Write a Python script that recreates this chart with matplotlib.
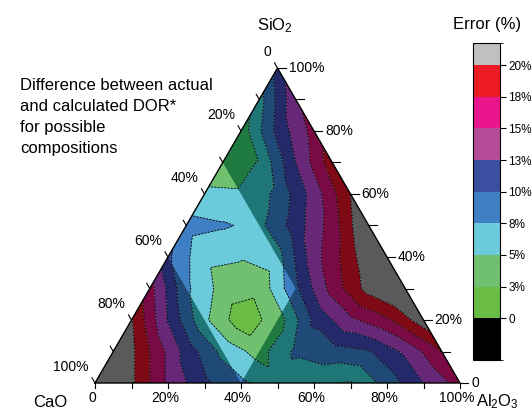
import numpy as np
import matplotlib.pyplot as plt
import matplotlib.tri as mtri
from matplotlib.colors import ListedColormap, BoundaryNorm
from matplotlib.cm import ScalarMappable
from matplotlib.patches import Polygon

plt.rcParams['font.family'] = ['Liberation Sans', 'DejaVu Sans']
plt.rcParams['mathtext.default'] = 'regular'

# error (%) read on a 10 % ternary grid
# row j = SiO2 (0..100 %), entry i = Al2O3 (0..100-SiO2 %), CaO is the rest
error_rows = [
    [25.0, 20.5, 14.5, 10.5, 8.0, 6.0, 5.5, 4.8, 8.5, 12.5, 16.0],
    [23.5, 17.5, 11.5, 6.8, 4.0, 8.0, 9.0, 9.8, 13.0, 17.5],
    [20.2, 12.3, 5.5, 1.0, 3.6, 10.5, 14.5, 17.0, 21.5],
    [16.0, 8.0, 4.0, 3.15, 9.5, 16.0, 21.0, 24.0],
    [10.5, 5.5, 5.2, 6.5, 14.0, 19.0, 25.0],
    [8.5, 7.8, 6.8, 11.2, 16.2, 23.0],
    [5.3, 5.2, 8.1, 13.6, 20.0],
    [4.0, 5.1, 12.5, 19.0],
    [3.5, 10.8, 16.0],
    [6.5, 14.5],
    [11.0],
]

levels = [-5, 0, 2.5, 5, 7.5, 10, 12.5, 15, 17.5, 20, 30]
band_colors = ['#000000', '#69bd45', '#70c070', '#6ccbdb', '#3f7fc3',
               '#3a4f9f', '#b64a9b', '#ec168c', '#ed1c24', '#c0c0c0']
dim_colors = ['#000000', '#2c6a22', '#1e7a3e', '#1f7676', '#1f4a78',
              '#24296a', '#682878', '#7a0a44', '#7e0a16', '#5a5a5a']

cbar_bounds = [-3.3, 0, 2.5, 5, 7.5, 10, 12.5, 15, 17.5, 20, 21.75]
cbar_ticks = [0, 2.5, 5, 7.5, 10, 12.5, 15, 17.5, 20]
cbar_labels = ['0', '3%', '5%', '8%', '10%', '13%', '15%', '18%', '20%']

axis_steps = [0, 10, 20, 30, 40, 50, 60, 70, 80, 90, 100]
axis_labels = [0, 20, 40, 60, 80, 100]

note_lines = ['Difference between actual', 'and calculated DOR*',
              'for possible', 'compositions']

# possible compositions window (Al2O3, SiO2), drawn undimmed
window = [(0.0, 0.7), (0.4, 0.3), (0.4, 0.0), (0.0, 0.4)]

H = np.sqrt(3) / 2


def tern(a, s):
    return a + s / 2, s * H


al, si, z = [], [], []
for j, row in enumerate(error_rows):
    for i, v in enumerate(row):
        al.append(i / 10)
        si.append(j / 10)
        z.append(v)
x, y = tern(np.array(al), np.array(si))
tri = mtri.Triangulation(x, y)

fig = plt.figure(figsize=(5.32, 4.11), dpi=100)
ax = fig.add_axes([95 / 532, 28 / 411, 365 / 532, 315 / 411])
ax.set_xlim(0, 1)
ax.set_ylim(0, H)
ax.axis('off')

ax.tricontourf(tri, z, levels=levels, colors=dim_colors, antialiased=True)
cs = ax.tricontourf(tri, z, levels=levels, colors=band_colors, antialiased=True)
win = Polygon([tern(a, s) for a, s in window], closed=True,
              transform=ax.transData, fill=False, lw=0)
ax.add_patch(win)
cs.set_clip_path(win)
ax.tricontour(tri, z, levels=levels[1:-1], colors='k', linewidths=0.6,
              linestyles=[(0, (2.5, 1.5))])

ax.plot([0, 1, 0.5, 0], [0, 0, H, 0], color='k', lw=1.0, clip_on=False)

px = 1 / 365
for v in axis_steps:
    f = v / 100
    # bottom: Al2O3
    ax.plot([f, f], [0, -5 * px], color='k', lw=0.8, clip_on=False)
    # right: SiO2
    rx, ry = tern(1 - f, f)
    ax.plot([rx, rx + 8 * px], [ry, ry], color='k', lw=0.8, clip_on=False)
    # left: CaO
    lx, ly = tern(0, 1 - f)
    ax.plot([lx, lx - 0.5 * 6 * px], [ly, ly + H * 6 * px], color='k', lw=0.8,
            clip_on=False)
    if v in axis_labels:
        txt = '0' if v == 0 else '%d%%' % v
        ax.annotate(txt, (f, 0), xytext=(-3, -15), textcoords='offset pixels',
                    ha='center', va='center', fontsize=10)
        ax.annotate(txt, (rx, ry), xytext=(11, 0), textcoords='offset pixels',
                    ha='left', va='center', fontsize=10)
        ax.annotate(txt, (lx, ly), xytext=(-6, 16), textcoords='offset pixels',
                    ha='right', va='center', fontsize=10)

ax.annotate('SiO$_2$', (0.5, H), xytext=(-3, 42), textcoords='offset pixels',
            ha='center', va='center', fontsize=12)
ax.annotate('CaO', (0, 0), xytext=(-45, -19), textcoords='offset pixels',
            ha='center', va='center', fontsize=12)
ax.annotate('Al$_2$O$_3$', (1, 0), xytext=(37, -19), textcoords='offset pixels',
            ha='center', va='center', fontsize=12)

for k, line in enumerate(note_lines):
    fig.text(20 / 532, 1 - (90 + 21 * k) / 411, line,
             ha='left', va='baseline', fontsize=12)

cax = fig.add_axes([473 / 532, 51 / 411, 27 / 532, 317 / 411])
cmap = ListedColormap(band_colors)
norm = BoundaryNorm(cbar_bounds, cmap.N)
cb = fig.colorbar(ScalarMappable(norm=norm, cmap=cmap), cax=cax,
                  boundaries=cbar_bounds, spacing='proportional', ticks=cbar_ticks)
cb.set_ticklabels(cbar_labels)
cb.outline.set_linewidth(0.8)
cb.ax.tick_params(length=4, width=0.8, labelsize=8.5, pad=2)
fig.text(487 / 532, 1 - 24 / 411, 'Error (%)', ha='center', va='center', fontsize=12)

fig.savefig('out.png', dpi=100)
